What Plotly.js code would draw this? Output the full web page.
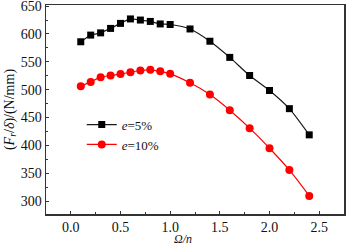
<!DOCTYPE html>
<html>
<head>
<meta charset="utf-8">
<script src="https://cdn.plot.ly/plotly-3.0.1.min.js"></script>
<style>html,body{margin:0;padding:0;background:#fff;}#chart{width:346px;height:245px;}</style>
</head>
<body>
<div id="chart"></div>
<script>
const ratio = [0.1,0.2,0.3,0.4,0.5,0.6,0.7,0.8,0.9,1.0,1.2,1.4,1.6,1.8,2.0,2.2,2.4];
const stiffE5 = [586,598,602,610,619,627,625,622.5,618,617,609,587,558,525.5,498.6,466,419];
const stiffE10 = [506,514,522.5,525.5,528,531.5,534.5,535.7,533,528.5,512.4,491.4,463.3,431,395,356,309.5];
const seriesNames = ['<i>e</i>=5%','<i>e</i>=10%'];
const xTitle = '<i>Ω/n</i>';
const yTitle = '(<i>F</i><sub><i>r</i></sub>/<i>δ</i>)/(N/mm)';

const fam = 'Liberation Serif';
const font = {family:fam, size:14, color:'#111'};
const traces = [
  {x:ratio, y:stiffE5, name:seriesNames[0], mode:'lines+markers', type:'scatter',
   line:{color:'#1a1a1a', width:1.2, shape:'spline', smoothing:0.6},
   marker:{symbol:'square', size:7, color:'#000'}},
  {x:ratio, y:stiffE10, name:seriesNames[1], mode:'lines+markers', type:'scatter',
   line:{color:'#ff0000', width:1.2, shape:'spline', smoothing:0.6},
   marker:{symbol:'circle', size:8, color:'#ff0000'}}
];
const axisCommon = {showline:true, mirror:true, linecolor:'#333', linewidth:1.5,
  ticks:'inside', ticklen:3, tickwidth:1, tickcolor:'#333', showgrid:false, zeroline:false,
  tickfont:font, ticklabeloverflow:'allow'};
const layout = {
  width:346, height:245, margin:{l:46, r:2, t:5, b:31},
  paper_bgcolor:'#fff', plot_bgcolor:'#fff', font:font, showlegend:true,
  legend:{x:0.12, y:0.38, xanchor:'left', yanchor:'middle', bgcolor:'rgba(0,0,0,0)',
    font:{family:fam, size:13, color:'#111'}, tracegroupgap:0, itemwidth:30},
  xaxis:Object.assign({}, axisCommon, {range:[-0.25,2.75], tickvals:[0,0.5,1,1.5,2,2.5],
    ticktext:['0.0','0.5','1.0','1.5','2.0','2.5'],
    minor:{dtick:0.25, ticks:'inside', ticklen:2, tickcolor:'#333'}}),
  yaxis:Object.assign({}, axisCommon, {range:[277,652], tickvals:[300,350,400,450,500,550,600,650],
    minor:{dtick:25, ticks:'inside', ticklen:2, tickcolor:'#333'},
    title:{text:yTitle, font:{family:fam, size:14, color:'#111'}, standoff:3}}),
  annotations:[{text:xTitle, xref:'paper', yref:'paper', x:0.46, y:-0.118,
    xanchor:'center', yanchor:'middle', showarrow:false,
    font:{family:fam, size:12, color:'#111'}}]
};
Plotly.newPlot('chart', traces, layout, {displayModeBar:false, staticPlot:true});
</script>
</body>
</html>
